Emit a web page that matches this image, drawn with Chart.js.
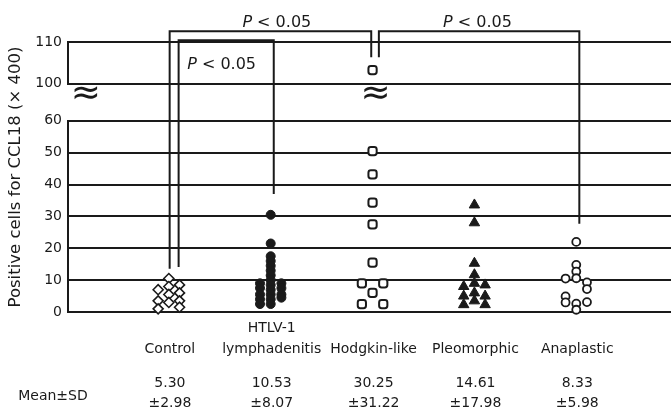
<!DOCTYPE html>
<html><head><meta charset="utf-8">
<script src="https://cdn.jsdelivr.net/npm/chart.js@4.4.1/dist/chart.umd.min.js"></script>
<style>html,body{margin:0;padding:0;background:#fff;}canvas{display:block;}</style>
</head><body>
<canvas id="c" width="671" height="410"></canvas>
<script>
// ---------- data ----------
const categories = ['Control', 'HTLV-1\nlymphadenitis', 'Hodgkin-like', 'Pleomorphic', 'Anaplastic'];
const meanValues = [5.30, 10.53, 30.25, 14.61, 8.33];
const sdValues = [2.98, 8.07, 31.22, 17.98, 5.98];
const yTicksLow = [0, 10, 20, 30, 40, 50, 60];
const yTicksHigh = [100, 110];

// column of each point inside its group: -1 left, 0 centre, 1 right
const controlValues = [7, 3.5, 1, 10.5, 8, 5.5, 3, 8.5, 6, 3.5, 1.5];
const controlCols   = [-1, -1, -1, 0, 0, 0, 0, 1, 1, 1, 1];
const htlvValues = [30.5, 21.5, 17.5, 16, 14.5, 13, 11.5, 10, 8.5, 7, 5.5, 4, 2.5, 9, 7.5, 5.5, 4, 2.5, 9, 7.5, 5.5, 4.5];
const htlvCols   = [0, 0, 0, 0, 0, 0, 0, 0, 0, 0, 0, 0, 0, -1, -1, -1, -1, -1, 1, 1, 1, 1];
const hodgkinValues = [103.2, 50.5, 43.2, 34.3, 27.5, 15.5, 6, 9, 2.5, 9, 2.5];
const hodgkinCols   = [0, 0, 0, 0, 0, 0, 0, -1, -1, 1, 1];
const pleoValues = [33.6, 28, 15.3, 11.7, 9, 6, 3.5, 8, 5, 2.3, 8.5, 5, 2.3];
const pleoCols   = [0, 0, 0, 0, 0, 0, 0, -1, -1, -1, 1, 1, 1];
const anaValues = [22, 14.8, 12.7, 10.6, 2.6, 0.7, 10.5, 4.9, 3, 9.3, 7.2, 3.1];
const anaCols   = [0, 0, 0, 0, 0, 0, -1, -1, -1, 1, 1, 1];

// significance brackets (x in group units, y in data units)
const brackets = [
  {x1: 0.998, y1: 13.6, x2: 2.977, y2: 106.3, top: 112.6, tx: 2.05, ty: 113.6},
  {x1: 1.086, y1: 14.1, x2: 2.02, y2: 37, top: 110.4, tx: 1.508, ty: 103.4},
  {x1: 3.052, y1: 106.3, x2: 5.02, y2: 27.7, top: 112.6, tx: 4.02, ty: 113.6}
];
const breakMarks = [{x: 0.174, y: 97.4}, {x: 3.02, y: 97.4}];
const pLabel = ['P', ' < 0.05'];
const yTitle = 'Positive cells for CCL18 (\u00d7 400)';

// ---------- helpers ----------
const COL_STEP = 0.105;
const FONT = 'DejaVu Sans';
const INK = '#1a1a1a';
function pts(values, cols, gi, keep) {
  const out = [];
  values.forEach((v, k) => { if (keep(v)) out.push({x: gi + 1 - 0.01 + cols[k] * COL_STEP, y: v}); });
  return out;
}
const low = v => v <= 60, high = v => v >= 100, all = () => true;
const base = {showLine: false, clip: false, borderColor: INK, pointHoverRadius: 5};

const annot = {
  id: 'annot',
  beforeDatasetsDraw(chart) {
    const ctx = chart.ctx;
    const {x: xs, yLow, yHigh} = chart.scales;
    const yp = v => v >= 80 ? yHigh.getPixelForValue(v) : yLow.getPixelForValue(v);
    const xp = v => xs.getPixelForValue(v);
    ctx.save();
    ctx.strokeStyle = INK; ctx.lineWidth = 2; ctx.lineJoin = 'miter'; ctx.lineCap = 'butt';
    brackets.forEach(b => {
      ctx.beginPath();
      ctx.moveTo(xp(b.x1), yp(b.y1));
      ctx.lineTo(xp(b.x1), yp(b.top));
      ctx.lineTo(xp(b.x2), yp(b.top));
      ctx.lineTo(xp(b.x2), yp(b.y2));
      ctx.stroke();
      ctx.fillStyle = INK; ctx.textBaseline = 'alphabetic'; ctx.textAlign = 'left';
      ctx.font = 'oblique 16px "' + FONT + '"';
      const w1 = ctx.measureText(pLabel[0]).width;
      ctx.font = '16px "' + FONT + '"';
      const w2 = ctx.measureText(pLabel[1]).width;
      const sx = xp(b.tx) - (w1 + w2) / 2;
      ctx.font = 'oblique 16px "' + FONT + '"';
      ctx.fillText(pLabel[0], sx, yp(b.ty));
      ctx.font = '16px "' + FONT + '"';
      ctx.fillText(pLabel[1], sx + w1, yp(b.ty));
    });
    ctx.font = '36px "' + FONT + '"';
    ctx.textAlign = 'center'; ctx.textBaseline = 'middle';
    breakMarks.forEach(m => ctx.fillText('\u2248', xp(m.x), yp(m.y)));
    ctx.restore();
  },
  afterDraw(chart) {
    const ctx = chart.ctx;
    const {x: xs, yLow, yHigh} = chart.scales;
    ctx.save();
    ctx.fillStyle = INK;
    ctx.textAlign = 'center'; ctx.textBaseline = 'middle';
    ctx.font = '14px "' + FONT + '"';
    meanValues.forEach((m, i) => {
      const px = xs.getPixelForValue(i + 1);
      ctx.fillText(m.toFixed(2), px, xs.top + 71);
      ctx.fillText('\u00b1' + sdValues[i].toFixed(2), px, xs.top + 91);
    });
    ctx.fillText('Mean\u00b1SD', 53, xs.top + 84);
    ctx.translate(16, (yHigh.top + yLow.bottom) / 2);
    ctx.rotate(-Math.PI / 2);
    ctx.font = '16.5px "' + FONT + '"';
    ctx.fillText(yTitle, 0, 0);
    ctx.restore();
  }
};

const tickFont = {family: FONT, size: 14};
const gridOpt = {color: INK, lineWidth: 2, drawTicks: false};
const borderOpt = {display: true, color: INK, width: 2};

new Chart(document.getElementById('c'), {
  type: 'scatter',
  data: {
    datasets: [
      {...base, data: pts(controlValues, controlCols, 0, all), yAxisID: 'yLow', pointStyle: 'rectRot', pointRadius: 5, pointBackgroundColor: '#fff', pointBorderWidth: 1.6},
      {...base, data: pts(htlvValues, htlvCols, 1, all), yAxisID: 'yLow', pointStyle: 'circle', pointRadius: 4.5, pointBackgroundColor: INK, pointBorderWidth: 1},
      {...base, data: pts(hodgkinValues, hodgkinCols, 2, low), yAxisID: 'yLow', pointStyle: 'rectRounded', pointRadius: 4.8, pointBackgroundColor: '#fff', pointBorderWidth: 2},
      {...base, data: pts(hodgkinValues, hodgkinCols, 2, high), yAxisID: 'yHigh', pointStyle: 'rectRounded', pointRadius: 4.8, pointBackgroundColor: '#fff', pointBorderWidth: 2},
      {...base, data: pts(pleoValues, pleoCols, 3, all), yAxisID: 'yLow', pointStyle: 'triangle', pointRadius: 6, pointBackgroundColor: INK, pointBorderWidth: 1},
      {...base, data: pts(anaValues, anaCols, 4, all), yAxisID: 'yLow', pointStyle: 'circle', pointRadius: 4, pointBackgroundColor: '#fff', pointBorderWidth: 1.8}
    ]
  },
  options: {
    responsive: false,
    animation: false,
    devicePixelRatio: 1,
    layout: {autoPadding: false, padding: {top: 42, left: 0, right: 0, bottom: 0}},
    plugins: {legend: {display: false}, tooltip: {enabled: false}},
    scales: {
      x: {
        type: 'linear', position: 'bottom', min: 0, max: 5.92,
        grid: {display: false}, border: {display: false},
        afterBuildTicks: s => { s.ticks = categories.map((c, i) => ({value: i + 1})); },
        ticks: {
          autoSkip: false, maxRotation: 0, padding: -2, color: INK,
          font: {family: FONT, size: 14, lineHeight: 1.5},
          callback: v => {
            const name = categories[Math.round(v) - 1];
            if (!name) return '';
            const lines = name.split('\n');
            return lines.length > 1 ? lines : ['', lines[0]];
          }
        },
        afterFit: s => { s.height = 98; s.paddingLeft = 0; s.paddingRight = 0; }
      },
      yLow: {
        type: 'linear', position: 'left', stack: 'y', stackWeight: 191.6, weight: 1,
        min: yTicksLow[0], max: yTicksLow[yTicksLow.length - 1],
        afterBuildTicks: s => { s.ticks = yTicksLow.map(v => ({value: v})); },
        ticks: {padding: 6, color: INK, font: tickFont},
        grid: gridOpt, border: borderOpt,
        afterFit: s => { s.width = 68; }
      },
      yGap: {
        type: 'linear', position: 'left', stack: 'y', stackWeight: 37.4, weight: 2,
        min: 60, max: 100,
        ticks: {display: false}, grid: {display: false}, border: {display: false},
        afterFit: s => { s.width = 68; }
      },
      yHigh: {
        type: 'linear', position: 'left', stack: 'y', stackWeight: 41.6, weight: 3,
        min: yTicksHigh[0], max: yTicksHigh[yTicksHigh.length - 1],
        afterBuildTicks: s => { s.ticks = yTicksHigh.map(v => ({value: v})); },
        ticks: {padding: 6, color: INK, font: tickFont},
        grid: gridOpt, border: borderOpt,
        afterFit: s => { s.width = 68; }
      }
    }
  },
  plugins: [annot]
});
</script>
</body></html>
